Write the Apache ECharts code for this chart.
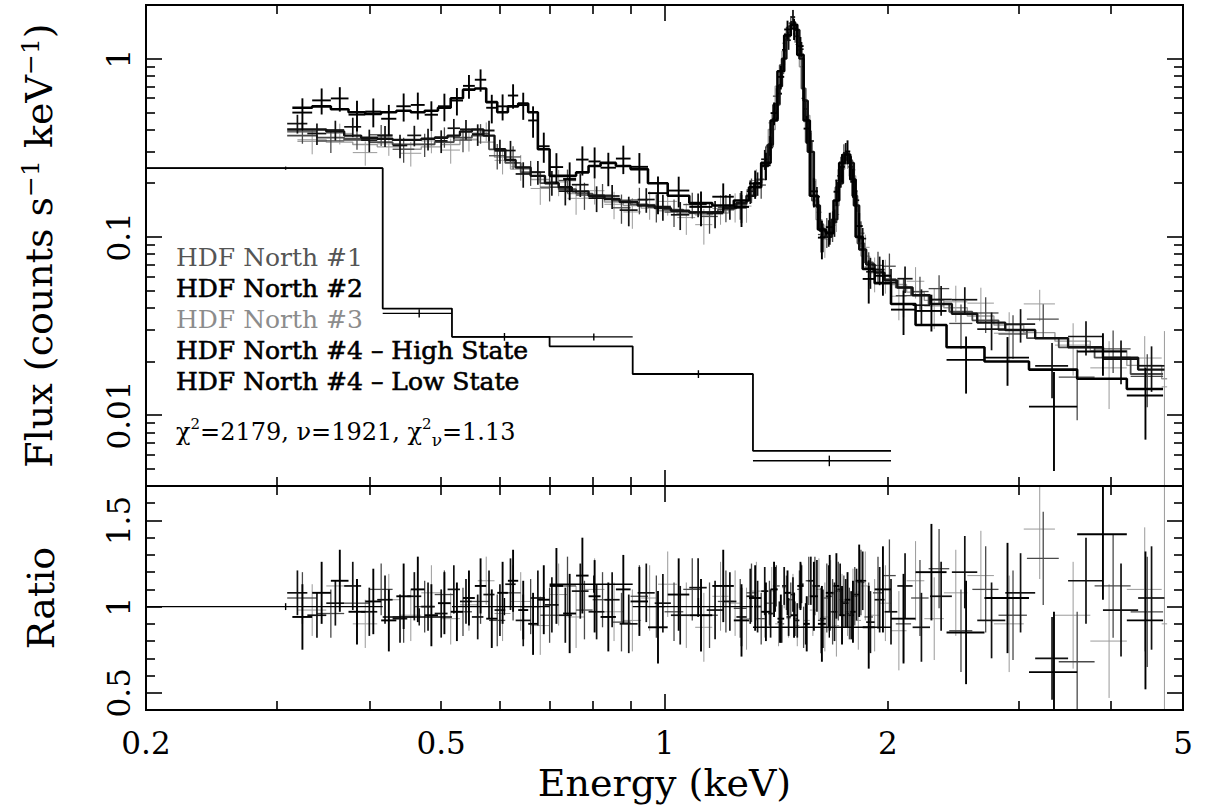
<!DOCTYPE html>
<html><head><meta charset="utf-8">
<script src="https://cdn.jsdelivr.net/npm/echarts@6/dist/echarts.min.js"></script>
<style>html,body{margin:0;padding:0;background:#fff}#c{width:1209px;height:811px}</style>
</head><body><div id="c"></div>
<script>
// ---------------- tick values / labels ----------------
const xTickLabels = [0.2, 0.5, 1, 2, 5];
const xMajorTicks = [1];
const xMinorTicks = [0.3, 0.4, 0.5, 0.6, 0.7, 0.8, 0.9, 2, 3, 4];
const fluxTickLabels = [0.01, 0.1, 1];
const fluxMinorTicks = [0.005, 0.006, 0.007, 0.008, 0.009, 0.02, 0.03, 0.04, 0.05, 0.06, 0.07, 0.08, 0.09,
  0.2, 0.3, 0.4, 0.5, 0.6, 0.7, 0.8, 0.9];
const ratioTickLabels = [0.5, 1, 1.5];
const ratioMinorTicks = [0.6, 0.7, 0.8, 0.9, 1.1, 1.2, 1.3, 1.4, 1.6];

// ---------------- HDF North #1 ----------------
const edges1 = [0.31,0.34,0.37,0.40,0.43,0.46,0.49,0.52,0.55,0.58,
  0.61,0.64,0.68,0.72,0.76,0.80,0.85,0.90,0.95,1.00,
  1.06,1.12,1.18,1.24,1.29,1.33,1.37,1.40,1.43,1.45,
  1.47,1.49,1.51,1.53,1.55,1.58,1.61,1.64,1.67,1.70,
  1.73,1.76,1.79,1.82,1.86,1.91,1.97,2.05,2.15,2.27,
  2.42,2.60,2.82,3.08,3.40,3.80,4.25,4.70];
const model1 = [0.37,0.36,0.35,0.34,0.33,0.33,0.34,0.36,0.37,0.31,
  0.26,0.23,0.20,0.185,0.175,0.165,0.16,0.152,0.147,0.142,
  0.138,0.137,0.142,0.152,0.17,0.21,0.32,0.55,0.92,1.28,
  1.52,1.48,1.12,0.68,0.34,0.16,0.112,0.102,0.12,0.19,
  0.28,0.27,0.17,0.092,0.072,0.064,0.058,0.052,0.047,0.042,
  0.038,0.034,0.030,0.027,0.024,0.021,0.017];
const ratio1 = [1.05,0.96,1.02,1.10,0.94,1.00,1.07,0.97,1.03,0.92,
  1.08,1.00,0.95,1.12,0.98,1.04,0.91,1.06,1.00,0.97,
  1.10,0.95,1.03,0.99,1.08,0.93,1.02,1.12,0.90,1.08,
  1.04,0.93,1.10,0.88,1.15,1.12,0.92,1.05,0.97,1.09,
  1.03,0.96,1.06,1.14,0.94,1.08,1.18,0.90,1.05,1.22,
  0.86,1.10,0.95,1.28,0.68,1.12,0.97];
const ratioErr1 = [0.15,0.14,0.14,0.15,0.15,0.15,0.14,0.14,0.13,0.15,
  0.16,0.16,0.16,0.17,0.17,0.16,0.17,0.18,0.18,0.17,
  0.18,0.19,0.18,0.17,0.17,0.15,0.13,0.12,0.11,0.10,
  0.10,0.10,0.11,0.12,0.14,0.17,0.19,0.20,0.19,0.17,
  0.15,0.15,0.17,0.19,0.20,0.21,0.21,0.22,0.22,0.23,
  0.24,0.25,0.26,0.27,0.29,0.30,0.32];

// ---------------- HDF North #2 ----------------
const edges2 = [0.315,0.335,0.355,0.375,0.395,0.415,0.435,0.455,0.475,0.495,
  0.515,0.535,0.555,0.575,0.595,0.615,0.635,0.655,0.675,0.70,
  0.73,0.76,0.79,0.82,0.86,0.90,0.95,1.01,1.08,1.16,
  1.24,1.30,1.35,1.39,1.42,1.45,1.48,1.51,1.54,1.57,
  1.61,1.65,1.69,1.72,1.75,1.78,1.81,1.85,1.92,2.02,
  2.18,2.40,2.70,3.10,3.60,4.20,4.70];
const model2 = [0.53,0.54,0.52,0.50,0.49,0.50,0.51,0.50,0.51,0.53,
  0.60,0.67,0.68,0.57,0.50,0.54,0.56,0.50,0.31,0.22,
  0.22,0.23,0.25,0.26,0.25,0.24,0.20,0.17,0.155,0.15,
  0.16,0.19,0.26,0.45,0.85,1.35,1.55,1.05,0.45,0.17,
  0.11,0.105,0.16,0.26,0.29,0.21,0.10,0.066,0.055,0.042,
  0.032,0.024,0.020,0.018,0.016,0.014];
const ratio2 = [0.94,1.08,1.15,0.97,1.03,0.92,1.06,1.10,0.95,1.02,
  0.97,1.05,1.12,0.93,1.08,1.15,0.98,0.90,1.04,1.12,
  0.96,1.18,1.06,0.94,1.10,1.03,0.88,1.07,0.95,1.12,
  0.92,1.05,0.97,1.10,0.93,1.08,0.95,1.12,0.90,1.06,
  0.90,1.08,1.12,0.95,1.04,0.97,1.15,0.88,1.10,0.93,
  1.20,0.85,1.05,0.62,1.42,0.92];
const ratioErr2 = [0.19,0.18,0.18,0.19,0.19,0.18,0.19,0.19,0.18,0.18,
  0.17,0.16,0.16,0.17,0.18,0.18,0.17,0.18,0.20,0.22,
  0.23,0.22,0.21,0.20,0.20,0.20,0.21,0.21,0.21,0.21,
  0.21,0.19,0.17,0.16,0.14,0.13,0.13,0.14,0.16,0.20,
  0.22,0.22,0.19,0.17,0.16,0.18,0.21,0.24,0.25,0.26,
  0.28,0.30,0.32,0.35,0.38,0.40];

// ---------------- HDF North #3 ----------------
const edges3 = [0.32,0.35,0.38,0.41,0.44,0.47,0.50,0.53,0.56,0.59,
  0.62,0.66,0.70,0.74,0.78,0.83,0.88,0.93,0.98,1.04,
  1.10,1.16,1.22,1.27,1.31,1.35,1.38,1.41,1.44,1.46,
  1.48,1.50,1.52,1.54,1.57,1.60,1.63,1.66,1.69,1.72,
  1.75,1.78,1.81,1.84,1.89,1.95,2.02,2.12,2.24,2.38,
  2.56,2.78,3.05,3.36,3.75,4.20,4.68,4.76];
const model3 = [0.35,0.34,0.33,0.32,0.31,0.32,0.33,0.35,0.34,0.28,
  0.24,0.21,0.19,0.175,0.165,0.157,0.15,0.145,0.14,0.135,
  0.133,0.136,0.145,0.16,0.19,0.26,0.40,0.70,1.10,1.42,
  1.58,1.35,0.90,0.48,0.21,0.125,0.103,0.108,0.15,0.24,
  0.29,0.22,0.12,0.078,0.066,0.060,0.054,0.049,0.044,0.040,
  0.036,0.032,0.029,0.026,0.023,0.019,0.016];
const ratio3 = [0.98,1.12,0.90,1.04,0.95,1.08,0.93,1.01,1.15,0.96,
  1.03,0.89,1.07,0.94,1.10,0.97,0.92,1.05,1.13,0.95,
  0.88,1.06,1.02,0.93,1.09,0.97,1.09,0.90,1.11,0.93,
  1.08,0.89,1.12,0.92,0.98,1.10,0.94,1.07,0.89,1.04,
  0.97,1.08,0.92,1.12,0.95,1.02,0.86,1.15,0.93,1.08,
  1.18,0.90,1.45,0.95,0.80,1.10,0.90];
const ratioErr3 = [0.15,0.15,0.14,0.15,0.15,0.16,0.15,0.15,0.14,0.16,
  0.17,0.17,0.18,0.18,0.18,0.17,0.18,0.19,0.19,0.19,
  0.20,0.20,0.19,0.18,0.17,0.15,0.14,0.13,0.12,0.11,
  0.11,0.12,0.13,0.14,0.15,0.18,0.20,0.20,0.18,0.15,
  0.14,0.14,0.17,0.20,0.21,0.22,0.23,0.23,0.24,0.25,
  0.26,0.28,0.29,0.31,0.33,0.36,0.95];

// ---------------- HDF North #4 - High State ----------------
const edges4 = [0.31,0.33,0.35,0.37,0.39,0.41,0.43,0.45,0.47,0.49,
  0.51,0.53,0.55,0.57,0.59,0.61,0.63,0.66,0.69,0.72,
  0.75,0.79,0.83,0.87,0.92,0.97,1.02,1.08,1.14,1.20,
  1.25,1.29,1.32,1.35,1.38,1.40,1.42,1.44,1.46,1.48,
  1.50,1.52,1.54,1.56,1.59,1.62,1.65,1.68,1.71,1.74,
  1.77,1.80,1.83,1.87,1.92,1.98,2.06,2.16,2.28,2.44,
  2.64,2.88,3.16,3.50,3.90,4.35,4.72];
const model4 = [0.40,0.40,0.39,0.37,0.36,0.355,0.35,0.35,0.355,0.36,
  0.37,0.39,0.40,0.37,0.31,0.27,0.245,0.22,0.20,0.19,
  0.18,0.17,0.163,0.157,0.15,0.145,0.14,0.137,0.138,0.145,
  0.155,0.17,0.20,0.25,0.33,0.46,0.70,1.00,1.35,1.60,
  1.45,1.00,0.58,0.30,0.15,0.108,0.100,0.125,0.20,0.29,
  0.26,0.15,0.085,0.070,0.063,0.057,0.052,0.047,0.042,0.037,
  0.033,0.030,0.027,0.024,0.021,0.018];
const ratio4 = [1.08,0.95,1.02,1.12,0.97,1.04,0.93,1.06,1.00,0.96,
  1.10,1.03,0.94,1.07,0.98,1.13,0.92,1.05,1.01,0.95,
  1.09,0.97,1.04,0.90,1.08,1.02,0.95,1.11,0.98,1.03,
  0.94,1.06,1.00,1.09,0.96,1.10,0.91,1.12,0.94,1.07,
  0.92,1.13,0.90,1.15,1.12,0.93,1.06,0.97,1.10,1.02,
  0.95,1.07,1.15,0.91,1.04,0.97,1.12,0.88,1.06,1.20,
  0.92,1.08,0.70,1.15,0.98,1.05];
const ratioErr4 = [0.13,0.13,0.13,0.14,0.14,0.14,0.14,0.14,0.14,0.14,
  0.14,0.13,0.13,0.14,0.15,0.15,0.15,0.16,0.16,0.16,
  0.16,0.16,0.16,0.17,0.17,0.17,0.17,0.17,0.17,0.17,
  0.17,0.16,0.15,0.14,0.14,0.13,0.12,0.11,0.11,0.10,
  0.10,0.11,0.12,0.14,0.15,0.17,0.18,0.17,0.15,0.14,
  0.14,0.15,0.17,0.18,0.19,0.19,0.19,0.20,0.20,0.21,
  0.22,0.23,0.24,0.25,0.27,0.30];

// ---------------- HDF North #4 - Low State ----------------
const edgesLow = [0.2, 0.417, 0.517, 0.70, 0.906, 1.316, 2.02];
const modelLow = [0.243, 0.0396, 0.0275, 0.0243, 0.0170, 0.0063];
const ratioLow = [1.00, 0.94, 1.00, 1.13, 1.00, 0.88];
const ratioErrLow = [0.02, 0.05, 0.05, 0.05, 0.05, 0.06];

// ---------------- chart ----------------
const X_MIN = 0.2, X_MAX = 5, F_MIN = 0.004, F_MAX = 2, R_MIN = 0.4, R_MAX = 1.7;
const FONT = "'DejaVu Serif', 'Liberation Serif', serif";
const L = Math.log10;
const MAJOR = 16, MINOR = 9;

function build(edges, model, ratio, err) {
  const top = [], bottom = [], step = [];
  for (let i = 0; i < model.length; i++) {
    const lo = edges[i], hi = edges[i + 1], mid = (lo + hi) / 2;
    const m = model[i], r = ratio[i], e = err[i];
    top.push([lo, hi, mid, m * r, Math.max(m * (r - e), F_MIN), m * (r + e)]);
    bottom.push([lo, hi, mid, r, r - e, r + e]);
    step.push([lo, m], [hi, m]);
  }
  return { top, bottom, step };
}

function crossRenderer(color, width) {
  return function (params, api) {
    const a = api.coord([api.value(0), api.value(3)]);
    const b = api.coord([api.value(1), api.value(3)]);
    const c = api.coord([api.value(2), api.value(4)]);
    const d = api.coord([api.value(2), api.value(5)]);
    const st = { stroke: color, lineWidth: width };
    return { type: 'group', children: [
      { type: 'line', shape: { x1: a[0], y1: a[1], x2: b[0], y2: b[1] }, style: st },
      { type: 'line', shape: { x1: c[0], y1: c[1], x2: d[0], y2: d[1] }, style: st }
    ] };
  };
}

const NAME1 = 'HDF North #1', NAME2 = 'HDF North #2', NAME3 = 'HDF North #3',
  NAME4H = 'HDF North #4 \u2013 High State', NAME4L = 'HDF North #4 \u2013 Low State';

const sets = [
  { name: NAME3, d: build(edges3, model3, ratio3, ratioErr3), color: '#9a9a9a', w: 1, mw: 1.4 },
  { name: NAME1, d: build(edges1, model1, ratio1, ratioErr1), color: '#4a4a4a', w: 1.3, mw: 1.8 },
  { name: NAME4H, d: build(edges4, model4, ratio4, ratioErr4), color: '#111', w: 1.7, mw: 2.4 },
  { name: NAME2, d: build(edges2, model2, ratio2, ratioErr2), color: '#000', w: 1.9, mw: 2.6 },
  { name: NAME4L, d: build(edgesLow, modelLow, ratioLow, ratioErrLow), color: '#000', w: 1.4, mw: 1.8 }
];

const series = [];
sets.forEach((s, k) => {
  series.push({
    name: s.name, type: 'line', xAxisIndex: 0, yAxisIndex: 0, data: s.d.step,
    symbol: 'none', showSymbol: false, lineStyle: { color: s.color, width: s.mw },
    itemStyle: { color: s.color }, z: 3 + k, silent: true, animation: false
  });
  series.push({
    name: s.name, type: 'custom', xAxisIndex: 0, yAxisIndex: 0, data: s.d.top,
    encode: { x: [0, 1, 2], y: [3, 4, 5] }, renderItem: crossRenderer(s.color, s.w),
    itemStyle: { color: s.color }, clip: true, z: 3 + k, silent: true, animation: false
  });
  series.push({
    name: s.name, type: 'custom', xAxisIndex: 1, yAxisIndex: 1, data: s.d.bottom,
    encode: { x: [0, 1, 2], y: [3, 4, 5] }, renderItem: crossRenderer(s.color, s.w),
    itemStyle: { color: s.color }, clip: true, z: 3 + k, silent: true, animation: false
  });
});

const lineSt = { color: '#000', width: 2 };
const tickSt = { color: '#000', width: 1.6 };
function overlay(grid, pos, min, max, ticks, len, label, extra) {
  const ax = {
    type: 'value', gridIndex: grid, position: pos, min: min, max: max,
    axisLine: { show: true, onZero: false, lineStyle: lineSt },
    axisTick: { show: true, inside: true, length: len, customValues: ticks, lineStyle: tickSt },
    axisLabel: label || { show: false },
    splitLine: { show: false }, splitArea: { show: false }, silent: true, z: 10
  };
  if (extra) Object.assign(ax, extra);
  return ax;
}
const LX0 = L(X_MIN), LX1 = L(X_MAX), LY0 = L(F_MIN), LY1 = L(F_MAX);
const logFmt = v => String(+Math.pow(10, v).toPrecision(6));
const xMaj = xMajorTicks.map(L), xMin = xMinorTicks.map(L);
const fMaj = fluxTickLabels.map(L), fMin = fluxMinorTicks.map(L);

const labelBase = { show: true, fontFamily: FONT, fontSize: 31, color: '#000' };
const nameBase = { fontFamily: FONT, fontSize: 38, color: '#000' };
const boldish = { textBorderColor: '#000', textBorderWidth: 0.6 };

const option = {
  animation: false,
  backgroundColor: '#fff',
  grid: [
    { left: 146, right: 26, top: 5, height: 481, outerBoundsMode: 'none' },
    { left: 146, right: 26, top: 486, height: 224, outerBoundsMode: 'none' }
  ],
  title: {
    left: 176, top: 416, padding: 0,
    text: '{t|\u03C7}{s|2}{t|=2179, \u03BD=1921, \u03C7}{s|2}{b|\u03BD}{t|=1.13}',
    textStyle: { fontWeight: 'normal', rich: {
      t: { fontFamily: FONT, fontSize: 24, fontWeight: 'normal', color: '#000', lineHeight: 32, verticalAlign: 'middle' },
      s: { fontFamily: FONT, fontSize: 15, fontWeight: 'normal', color: '#000', lineHeight: 15, verticalAlign: 'top' },
      b: { fontFamily: FONT, fontSize: 17, fontWeight: 'normal', color: '#000', lineHeight: 17, verticalAlign: 'bottom' }
    } }
  },
  legend: {
    left: 169, top: 242, orient: 'vertical', padding: 0, itemGap: 0, itemWidth: 2, itemHeight: 31,
    icon: 'none', selectedMode: false,
    textStyle: { fontFamily: FONT, fontSize: 25, lineHeight: 31, color: '#000', fontWeight: 'normal' },
    data: [
      { name: NAME1, textStyle: { color: '#555' } },
      { name: NAME2, textStyle: Object.assign({ color: '#000' }, boldish) },
      { name: NAME3, textStyle: { color: '#8c8c8c' } },
      { name: NAME4H, textStyle: Object.assign({ color: '#000' }, boldish) },
      { name: NAME4L, textStyle: Object.assign({ color: '#000' }, boldish) }
    ]
  },
  xAxis: [
    { type: 'log', logBase: 10, gridIndex: 0, min: X_MIN, max: X_MAX, show: false },
    { type: 'log', logBase: 10, gridIndex: 1, min: X_MIN, max: X_MAX, show: false },
    overlay(0, 'bottom', LX0, LX1, xMaj, MAJOR),
    overlay(0, 'bottom', LX0, LX1, xMin, MINOR),
    overlay(0, 'top', LX0, LX1, xMaj, MAJOR),
    overlay(0, 'top', LX0, LX1, xMin, MINOR),
    overlay(1, 'top', LX0, LX1, xMaj, MAJOR),
    overlay(1, 'top', LX0, LX1, xMin, MINOR),
    overlay(1, 'bottom', LX0, LX1, xMaj, MAJOR,
      Object.assign({}, labelBase, { customValues: xTickLabels.map(L), formatter: logFmt, margin: 17 }),
      { name: 'Energy (keV)', nameLocation: 'middle', nameGap: 54, nameMoveOverlap: false, nameTextStyle: nameBase }),
    overlay(1, 'bottom', LX0, LX1, xMin, MINOR)
  ],
  yAxis: [
    { type: 'log', logBase: 10, gridIndex: 0, min: F_MIN, max: F_MAX, show: false },
    { type: 'value', gridIndex: 1, min: R_MIN, max: R_MAX, show: false, axisLine: { onZero: false } },
    overlay(0, 'left', LY0, LY1, fMaj, MAJOR,
      Object.assign({}, labelBase, { customValues: fMaj, formatter: logFmt, rotate: 90, margin: 12 }),
      { name: '{n|Flux (counts s}{s|\u22121}{n| keV}{s|\u22121}{n|)}', nameLocation: 'middle', nameRotate: 90,
        nameGap: 86, nameMoveOverlap: false,
        nameTextStyle: { rich: {
          n: { fontFamily: FONT, fontSize: 38, color: '#000', lineHeight: 42, verticalAlign: 'middle' },
          s: { fontFamily: FONT, fontSize: 25, color: '#000', lineHeight: 25, verticalAlign: 'top' }
        } } }),
    overlay(0, 'left', LY0, LY1, fMin, MINOR),
    overlay(0, 'right', LY0, LY1, fMaj, MAJOR),
    overlay(0, 'right', LY0, LY1, fMin, MINOR),
    overlay(1, 'left', R_MIN, R_MAX, ratioTickLabels, MAJOR,
      Object.assign({}, labelBase, { customValues: ratioTickLabels, formatter: v => String(v), rotate: 90, margin: 12 }),
      { name: 'Ratio', nameLocation: 'middle', nameRotate: 90, nameGap: 86, nameMoveOverlap: false, nameTextStyle: nameBase }),
    overlay(1, 'left', R_MIN, R_MAX, ratioMinorTicks, MINOR),
    overlay(1, 'right', R_MIN, R_MAX, ratioTickLabels, MAJOR),
    overlay(1, 'right', R_MIN, R_MAX, ratioMinorTicks, MINOR)
  ],
  series: series
};

const chart = echarts.init(document.getElementById('c'), null, { renderer: 'svg' });
chart.setOption(option);
</script></body></html>
